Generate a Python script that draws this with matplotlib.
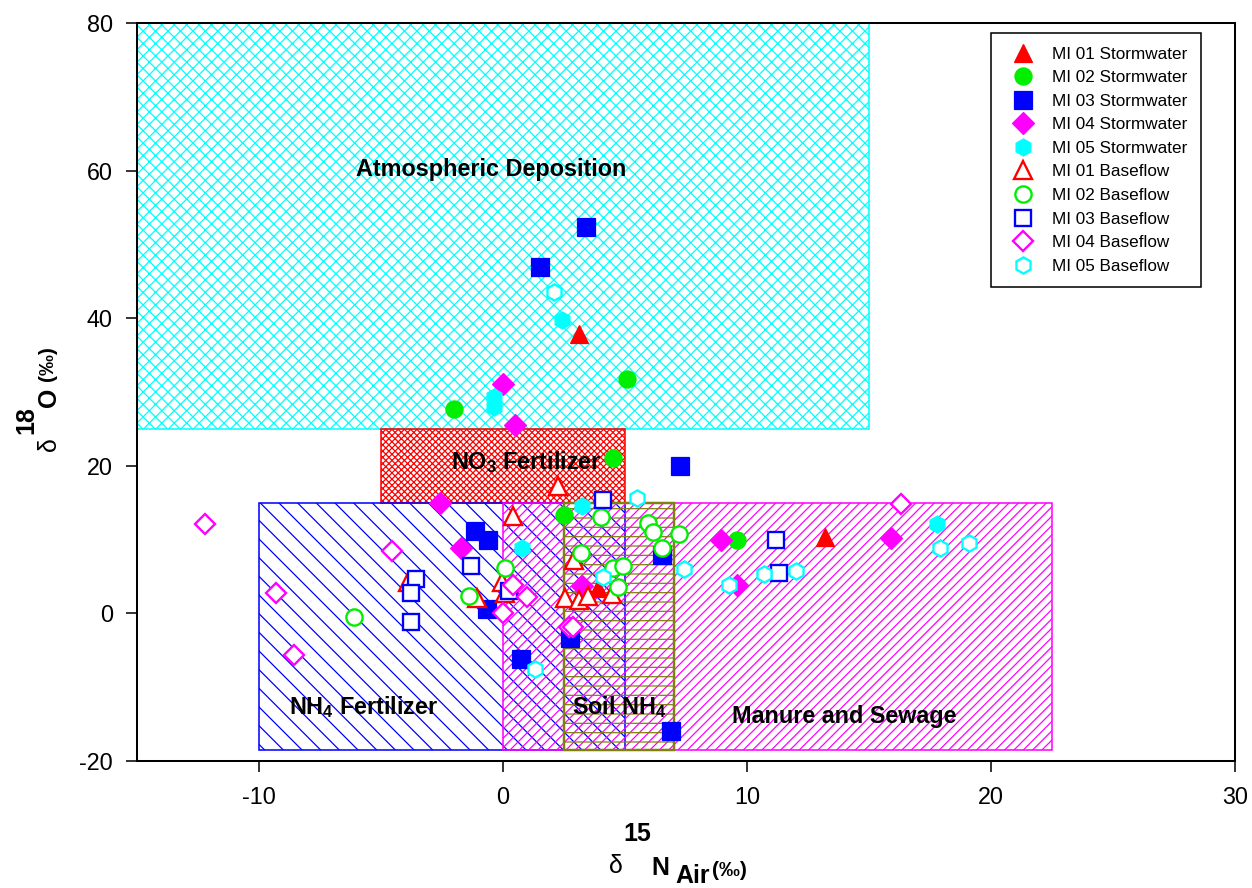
import matplotlib
matplotlib.use('Agg')
import matplotlib.pyplot as plt
from matplotlib.patches import Rectangle

plt.rcParams['font.family'] = ['Liberation Sans', 'DejaVu Sans']
plt.rcParams['mathtext.fontset'] = 'custom'
plt.rcParams['mathtext.rm'] = 'Liberation Sans'
plt.rcParams['mathtext.bf'] = 'Liberation Sans:bold'
plt.rcParams['hatch.linewidth'] = 0.8
plt.rcParams['axes.unicode_minus'] = False

# Source regions (d15N range, d18O range)
region_names = ['Atmospheric Deposition', r'NO$_\mathbf{3}$ Fertilizer', r'NH$_\mathbf{4}$ Fertilizer',
                'Manure and Sewage', r'Soil NH$_\mathbf{4}$']
region_x0 = [-15, -5, -10, 0, 2.5]
region_x1 = [15, 5, 5, 22.5, 7]
region_y0 = [25, 15, -18.5, -18.5, -18.5]
region_y1 = [80, 25, 15, 15, 15]

# Sample isotope values (d15N, d18O)
mi01_storm_x = [3.1, 13.2, 3.9]
mi01_storm_y = [37.8, 10.4, 3.5]
mi02_storm_x = [-2.0, 5.1, 4.5, 2.5, 9.6]
mi02_storm_y = [27.7, 31.8, 21.1, 13.4, 9.9]
mi03_storm_x = [3.4, 1.5, 7.25, -1.15, -0.6, -0.65, 0.75, 2.75, 6.5, 6.9]
mi03_storm_y = [52.3, 46.9, 20.0, 11.2, 10.0, 0.6, -6.2, -3.3, 7.9, -15.9]
mi04_storm_x = [0.0, 0.5, -2.6, -1.7, 3.25, 8.95, 15.9, 9.6]
mi04_storm_y = [31.1, 25.5, 15.0, 8.9, 3.7, 9.9, 10.2, 3.9]
mi05_storm_x = [2.4, -0.35, -0.35, 3.25, 0.8, 17.8]
mi05_storm_y = [39.7, 29.3, 28.0, 14.5, 8.9, 12.1]

mi01_base_x = [2.25, 0.4, 2.9, -3.9, -0.05, 0.1, -1.05, 2.55, 3.1, 3.5, 4.45]
mi01_base_y = [17.3, 13.2, 7.2, 4.2, 4.3, 2.8, 2.1, 2.1, 1.8, 2.3, 2.6]
mi02_base_x = [-6.1, -1.4, 0.1, 4.0, 3.2, 5.95, 6.15, 7.2, 6.5, 4.5, 4.9, 4.7]
mi02_base_y = [-0.5, 2.4, 6.2, 13.1, 8.2, 12.3, 11.0, 10.8, 8.9, 6.1, 6.4, 3.6]
mi03_base_x = [4.1, -1.3, -3.55, -3.75, -3.75, 0.25, 11.2, 11.3]
mi03_base_y = [15.4, 6.4, 4.7, 2.7, -1.2, 3.0, 10.0, 5.5]
mi04_base_x = [-12.2, -9.3, -8.55, -4.55, 0.4, 1.0, 0.0, 2.7, 2.85, 16.3]
mi04_base_y = [12.1, 2.8, -5.7, 8.5, 3.9, 2.2, 0.1, -1.9, -1.9, 14.8]
mi05_base_x = [2.1, 5.5, 1.3, 4.1, 7.4, 9.25, 10.7, 12.0, 17.9, 19.1]
mi05_base_y = [43.6, 15.6, -7.5, 5.0, 6.0, 3.9, 5.4, 5.7, 8.8, 9.5]

x_ticks = [-10, 0, 10, 20, 30]
y_ticks = [-20, 0, 20, 40, 60, 80]

DPI = 112
fig = plt.figure(figsize=(1252.01 / DPI, 888.01 / DPI), dpi=DPI)
ax = fig.add_axes([0.1094, 0.1430, 0.8770, 0.8311])

# source boxes
region_colors = ['#00ffff', '#ff0000', '#0000ff', '#ff00ff', '#808010']
region_hatch = ['xxx', 'xxxxxx', '\\\\', '////', '--']
region_lw = [1.0, 1.0, 1.0, 1.0, 1.6]
for i in range(len(region_names)):
    ax.add_patch(Rectangle((region_x0[i], region_y0[i]), region_x1[i] - region_x0[i],
                           region_y1[i] - region_y0[i], facecolor='none',
                           edgecolor=region_colors[i], hatch=region_hatch[i],
                           lw=region_lw[i], zorder=1))

label_pos = [(-0.5, 59.3), (0.95, 19.5), (-5.7, -13.7), (14.0, -14.8), (4.75, -13.7)]
for name, (lx, ly) in zip(region_names, label_pos):
    ax.text(lx, ly, name, ha='center', va='baseline', fontsize=15,
            fontweight='bold', zorder=3)

# samples
ms = {'^': 11.8, 'o': 11, 's': 11, 'D': 9.6, 'h': 11}
storm = [(mi01_storm_x, mi01_storm_y, '^', '#ff0000', 'MI 01 Stormwater'),
         (mi02_storm_x, mi02_storm_y, 'o', '#00ee00', 'MI 02 Stormwater'),
         (mi03_storm_x, mi03_storm_y, 's', '#0000ff', 'MI 03 Stormwater'),
         (mi04_storm_x, mi04_storm_y, 'D', '#ff00ff', 'MI 04 Stormwater'),
         (mi05_storm_x, mi05_storm_y, 'h', '#00ffff', 'MI 05 Stormwater')]
base = [(mi01_base_x, mi01_base_y, '^', '#ff0000', 'MI 01 Baseflow'),
        (mi02_base_x, mi02_base_y, 'o', '#00ee00', 'MI 02 Baseflow'),
        (mi03_base_x, mi03_base_y, 's', '#0000ff', 'MI 03 Baseflow'),
        (mi04_base_x, mi04_base_y, 'D', '#ff00ff', 'MI 04 Baseflow'),
        (mi05_base_x, mi05_base_y, 'h', '#00ffff', 'MI 05 Baseflow')]

for xs, ys, m, c, lab in storm:
    ax.plot(xs, ys, linestyle='none', marker=m, ms=ms[m], color=c, mec=c, mew=0.8,
            label=lab, zorder=4)
for xs, ys, m, c, lab in base:
    ax.plot(xs, ys, linestyle='none', marker=m, ms=ms[m] * 0.95, mfc='white', mec=c,
            mew=1.5, label=lab, zorder=5)

ax.set_xlim(-15, 30)
ax.set_ylim(-20, 80)
ax.set_xticks(x_ticks)
ax.set_yticks(y_ticks)
ax.tick_params(direction='out', length=7, width=1, labelsize=15)
ax.tick_params(axis='x', pad=9)
ax.tick_params(axis='y', pad=8.5)
for sp in ax.spines.values():
    sp.set_linewidth(1.3)

leg = ax.legend(loc='upper right', bbox_to_anchor=(0.969, 0.9865), fontsize=11,
                frameon=True, fancybox=False, edgecolor='black', framealpha=1,
                borderpad=0.8, handlelength=2.16, handletextpad=0.62,
                labelspacing=0.5, borderaxespad=0, numpoints=1)
leg.get_frame().set_linewidth(1.0)


# axis titles built from pieces so the super/subscripts stay large
def px(x, y):
    return x / 1252, 1 - y / 888


fig.text(*px(609, 873), 'δ', fontsize=16, ha='left', va='baseline')
fig.text(*px(623, 841), '15', fontsize=16, fontweight='bold', ha='left', va='baseline')
fig.text(*px(651, 875), 'N', fontsize=16, fontweight='bold', ha='left', va='baseline')
fig.text(*px(675, 883), 'Air', fontsize=16, fontweight='bold', ha='left', va='baseline')
fig.text(*px(712, 876), '(‰)', fontsize=13.5, fontweight='bold', ha='left', va='baseline')

rot = dict(rotation=90, rotation_mode='anchor', ha='left', va='baseline')
fig.text(*px(56, 451), 'δ', fontsize=16, **rot)
fig.text(*px(33, 434), '18', fontsize=16, fontweight='bold', **rot)
fig.text(*px(56, 407), 'O', fontsize=16, fontweight='bold', **rot)
fig.text(*px(53, 381), '(‰)', fontsize=13.5, fontweight='bold', **rot)

plt.savefig('out.png', dpi=DPI)
